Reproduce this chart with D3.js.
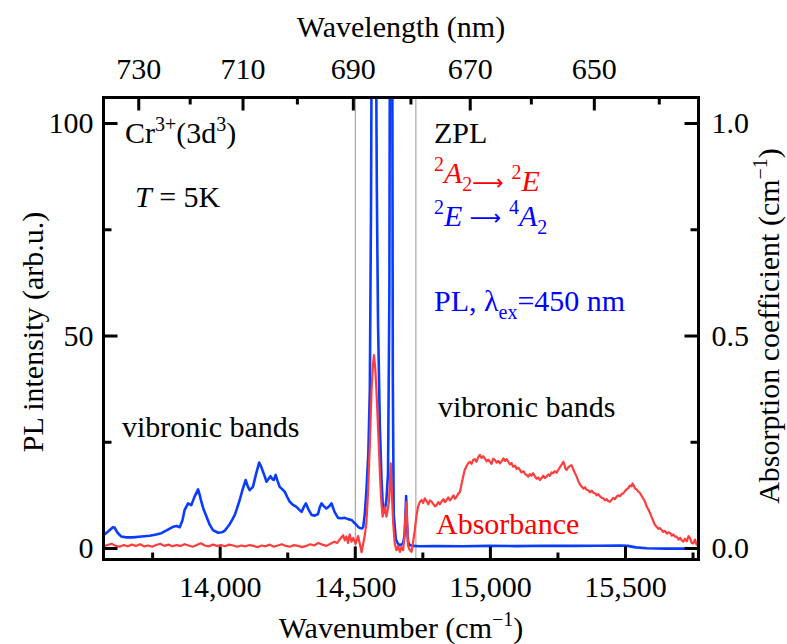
<!DOCTYPE html>
<html><head><meta charset="utf-8">
<script src="https://cdn.jsdelivr.net/npm/d3@7/dist/d3.min.js"></script>
<style>body{margin:0;background:#fff}svg{display:block}</style>
</head><body><svg id="c" width="787" height="644"></svg>
<script>
// ---- data ----
const plWavenumber = [13570,13580,13592,13605,13611,13622,13636,13655,13679,13710,13741,13765,13784,13805,13827,13840,13852,13862,13870,13883,13895,13907,13920,13926,13932,13941,13951,13963,13975,13994,14008,14019,14030,14037,14046,14056,14065,14074,14085,14096,14104,14111,14123,14135,14146,14153,14160,14167,14173,14180,14188,14195,14200,14207,14214,14222,14232,14241,14250,14259,14270,14284,14293,14303,14311,14319,14330,14340,14352,14364,14370,14377,14386,14395,14405,14414,14425,14438,14450,14463,14475,14488,14497,14504,14512,14519,14526,14531,14537,14543,14550,14555.6,14560,14563,14569,14576,14581.5,14586,14592.6,14599,14605,14611,14617,14623,14628,14630.7,14634,14638,14640.7,14644,14652,14660,14667,14673,14679,14684,14687,14690,14693,14697,14703,14715,14740,14800,14900,15000,15100,15200,15300,15400,15480,15510,15540,15580,15650,15720,15772];
const plIntensity = [3.1,3.5,4.2,4.9,4.8,3.6,2.7,2.5,2.5,2.7,2.9,3.2,3.5,4.2,5.0,5.2,4.9,6.5,8.9,10.5,10.1,12.1,13.8,12.5,10.9,9.0,7.4,5.5,4.2,3.6,3.7,4.1,5.0,5.6,6.6,7.8,9.5,11.3,13.8,16.0,14.5,13.6,14.4,17.5,20.1,19.2,18.0,16.8,15.6,16.2,16.9,16.2,16.0,17.2,15.8,14.4,13.8,13.2,12.0,10.9,10.2,9.7,9.1,8.5,9.6,10.5,8.9,7.8,7.6,8.0,9.5,10.5,9.8,9.3,9.8,10.5,8.5,7.1,7.0,7.1,6.8,6.6,6.0,5.6,5.0,4.7,4.6,4.9,8.0,13.6,22,37,80,130,220,150,85,53,29,16,8.2,9,11.3,17.6,60,150,210,150,40,8,2,1.0,0.6,0.9,1.2,3,7,12.2,6,1.5,0.7,0.5,0.4,0.45,0.4,0.5,0.45,0.55,0.5,0.55,0.6,0.5,0.15,-0.05,-0.15,-0.1,-0.15];

const absWavenumber = [13570,13585,13600,13615,13630,13645,13660,13675,13690,13705,13720,13735,13750,13765,13780,13795,13810,13825,13840,13855,13870,13885,13900,13915,13930,13945,13960,13975,13990,14005,14020,14035,14050,14065,14080,14095,14110,14125,14140,14155,14170,14185,14200,14215,14230,14245,14260,14275,14290,14305,14320,14335,14350,14365,14380,14395,14410,14425,14435,14444,14457,14463,14469,14475,14481,14488,14494,14503,14512,14518,14525,14531,14537,14543,14549,14556,14562,14567,14571,14576,14580,14587,14593,14598,14603,14607,14611,14617,14622,14627,14630,14633,14637,14642,14648,14654,14660,14667,14673,14679,14684,14688,14691,14694,14697,14703,14710,14716,14722,14728,14734,14741,14747,14753,14759,14766,14772,14778,14784,14790,14797,14803,14809,14815,14821,14828,14834,14840,14846,14852,14858,14865,14871,14877,14883,14889,14895,14901,14907,14913,14920,14926,14932,14938,14944,14950,14957,14963,14969,14975,14981,14988,14994,15000,15006,15012,15019,15025,15031,15037,15043,15050,15056,15062,15068,15074,15080,15086,15093,15099,15105,15111,15117,15124,15130,15136,15142,15148,15154,15160,15167,15173,15179,15185,15191,15197,15204,15210,15216,15222,15228,15234,15240,15247,15253,15259,15265,15272,15276,15280,15284,15290,15296,15302,15308,15315,15321,15327,15333,15340,15346,15352,15358,15364,15370,15377,15383,15389,15395,15401,15408,15414,15420,15426,15432,15438,15444,15450,15457,15463,15469,15475,15481,15488,15494,15500,15506,15512,15518,15524,15528,15533,15537,15543,15549,15556,15562,15568,15574,15580,15587,15593,15599,15605,15611,15617,15624,15630,15636,15642,15648,15655,15661,15667,15673,15679,15685,15691,15698,15704,15710,15716,15722,15729,15735,15741,15747,15753,15759,15765,15770];
const absCoeff = [0.004,0.007,0.010,0.005,0.003,0.007,0.004,0.008,0.005,0.009,0.004,0.006,0.003,0.007,0.010,0.005,0.008,0.004,0.007,0.005,0.009,0.006,0.003,0.007,0.011,0.006,0.004,0.008,0.005,0.007,0.004,0.008,0.006,0.003,0.006,0.004,0.007,0.005,0.002,0.006,0.004,0.008,0.003,0.006,0.009,0.005,0.003,0.007,0.005,0.002,0.005,0.009,0.006,0.012,0.008,0.005,0.010,0.015,0.012,0.020,0.030,0.018,0.027,0.012,0.032,0.015,0.024,0.010,0.028,0.012,-0.010,0.010,0.030,0.060,0.130,0.250,0.372,0.430,0.454,0.420,0.372,0.270,0.176,0.110,0.074,0.085,0.097,0.074,0.090,0.113,0.160,0.199,0.130,0.059,0.010,-0.005,0.004,-0.009,0.002,-0.005,0.030,0.080,0.108,0.060,0.005,-0.004,-0.009,0.015,0.042,0.075,0.097,0.109,0.113,0.106,0.117,0.110,0.103,0.112,0.109,0.104,0.098,0.101,0.108,0.103,0.109,0.115,0.108,0.113,0.119,0.112,0.117,0.124,0.116,0.121,0.128,0.132,0.150,0.168,0.184,0.192,0.200,0.203,0.198,0.207,0.209,0.203,0.214,0.219,0.212,0.216,0.211,0.204,0.208,0.203,0.198,0.210,0.207,0.201,0.205,0.199,0.204,0.211,0.205,0.209,0.203,0.197,0.200,0.191,0.194,0.186,0.189,0.184,0.178,0.181,0.174,0.172,0.168,0.174,0.170,0.176,0.168,0.163,0.166,0.160,0.164,0.170,0.165,0.168,0.173,0.170,0.178,0.176,0.181,0.177,0.184,0.190,0.196,0.203,0.195,0.186,0.184,0.190,0.193,0.195,0.186,0.176,0.168,0.158,0.150,0.144,0.140,0.143,0.137,0.136,0.131,0.135,0.130,0.129,0.124,0.127,0.121,0.118,0.117,0.112,0.115,0.110,0.109,0.113,0.118,0.115,0.121,0.124,0.122,0.127,0.129,0.134,0.138,0.141,0.147,0.145,0.152,0.146,0.140,0.138,0.133,0.129,0.122,0.116,0.109,0.098,0.090,0.082,0.072,0.063,0.054,0.050,0.045,0.047,0.042,0.038,0.040,0.034,0.037,0.035,0.029,0.032,0.027,0.027,0.020,0.024,0.018,0.015,0.022,0.016,0.028,0.023,0.012,0.011,0.020,0.008,0.012];

const zplLines = [14502, 14726];
const bottomMajor = [14000, 14500, 15000, 15500];
const bottomMinor = [13750, 14250, 14750, 15250, 15750];
const topMajor = [730, 710, 690, 670, 650];
const topMinor = [720, 700, 680, 660, 640];
const leftMajor = [0, 50, 100];
const leftMinor = [25, 75];
const rightMajor = [0, 0.5, 1.0];
const rightMinor = [0.25, 0.75];

// ---- layout ----
const L = 103.5, R = 698.5, T = 97.5, B = 559.5;
const FS = 30, SUP = 20;
const FONT = "'Liberation Serif','Times New Roman',serif";
const ARROWFONT = "'DejaVu Sans',sans-serif";
const svg = d3.select("#c");
const x = d3.scaleLinear().domain([13570, 15772]).range([L, R]);
const yL = d3.scaleLinear().domain([-2.7, 106]).range([B, T]);
const yR = d3.scaleLinear().domain([-0.027, 1.06]).range([B, T]);

svg.append("defs").append("clipPath").attr("id","clip")
  .append("rect").attr("x",L).attr("y",T).attr("width",R-L).attr("height",B-T);

const plot = svg.append("g").attr("clip-path","url(#clip)");
zplLines.forEach(v => plot.append("line").attr("x1",x(v)).attr("x2",x(v)).attr("y1",T).attr("y2",B)
  .attr("stroke","#a8a8a8").attr("stroke-width",1.2));

const absData = absWavenumber.map((w,i)=>[w, absCoeff[i]]);
const plData = plWavenumber.map((w,i)=>[w, plIntensity[i]]);

plot.append("path").datum(plData)
  .attr("d", d3.line().x(d=>x(d[0])).y(d=>yL(d[1])))
  .attr("fill","none").attr("stroke","#0a3cff").attr("stroke-width",2.6).attr("stroke-linejoin","round");
plot.append("path").datum(absData)
  .attr("d", d3.line().x(d=>x(d[0])).y(d=>yR(d[1])))
  .attr("fill","none").attr("stroke","#ff3d3d").attr("stroke-width",2.2).attr("stroke-linejoin","round");

// ---- axes ----
function styleAxis(g){
  g.attr("font-family", FONT).attr("font-size", FS);
  g.select(".domain").remove();
  g.selectAll("line").attr("stroke","#000").attr("stroke-width",3);
  g.selectAll("text").attr("fill","#000");
}
const fmtComma = d3.format(",");
svg.append("g").attr("transform",`translate(0,${B})`)
  .call(d3.axisBottom(x).tickValues(bottomMajor).tickFormat(fmtComma).tickSizeInner(-13).tickSizeOuter(0).tickPadding(16)).call(styleAxis);
svg.append("g").attr("transform",`translate(0,${B})`)
  .call(d3.axisBottom(x).tickValues(bottomMinor).tickFormat("").tickSizeInner(-7).tickSizeOuter(0)).call(styleAxis);
svg.append("g").attr("transform",`translate(0,${T})`)
  .call(d3.axisTop(x).tickValues(topMajor.map(l=>1e7/l)).tickFormat(d=>Math.round(1e7/d)).tickSizeInner(-13).tickSizeOuter(0).tickPadding(19)).call(styleAxis);
svg.append("g").attr("transform",`translate(0,${T})`)
  .call(d3.axisTop(x).tickValues(topMinor.map(l=>1e7/l)).tickFormat("").tickSizeInner(-7).tickSizeOuter(0)).call(styleAxis);
svg.append("g").attr("transform",`translate(${L},0)`)
  .call(d3.axisLeft(yL).tickValues(leftMajor).tickFormat(d3.format("d")).tickSizeInner(-14).tickSizeOuter(0).tickPadding(10)).call(styleAxis);
svg.append("g").attr("transform",`translate(${L},0)`)
  .call(d3.axisLeft(yL).tickValues(leftMinor).tickFormat("").tickSizeInner(-8).tickSizeOuter(0)).call(styleAxis);
svg.append("g").attr("transform",`translate(${R},0)`)
  .call(d3.axisRight(yR).tickValues(rightMajor).tickFormat(d3.format(".1f")).tickSizeInner(-14).tickSizeOuter(0).tickPadding(13)).call(styleAxis);
svg.append("g").attr("transform",`translate(${R},0)`)
  .call(d3.axisRight(yR).tickValues(rightMinor).tickFormat("").tickSizeInner(-8).tickSizeOuter(0)).call(styleAxis);

svg.append("rect").attr("x",L).attr("y",T).attr("width",R-L).attr("height",B-T)
  .attr("fill","none").attr("stroke","#000").attr("stroke-width",3);

// ---- titles ----
function txt(xp, yp, color, anchor){
  return svg.append("text").attr("x",xp).attr("y",yp).attr("fill",color||"#000")
    .attr("font-family",FONT).attr("font-size",FS).attr("text-anchor",anchor||"start");
}
function arrow(t){
  t.append("tspan").attr("font-family",ARROWFONT).attr("font-size",22).attr("dy",-1).text("\u27F6");
  t.append("tspan").attr("dy",1).text(" ");
}
txt(401, 37, "#000", "middle").text("Wavelength (nm)");
{
  const t = txt(401, 638, "#000", "middle");
  t.append("tspan").text("Wavenumber (cm");
  t.append("tspan").attr("dy",-12).attr("font-size",SUP).text("\u22121");
  t.append("tspan").attr("dy",12).text(")");
}
svg.append("text").attr("transform","translate(43,332) rotate(-90)").attr("text-anchor","middle")
  .attr("font-family",FONT).attr("font-size",FS).text("PL intensity (arb.u.)");
{
  const t = svg.append("text").attr("transform","translate(779,326) rotate(-90)").attr("text-anchor","middle")
    .attr("font-family",FONT).attr("font-size",FS);
  t.append("tspan").text("Absorption coefficient (cm");
  t.append("tspan").attr("dy",-12).attr("font-size",SUP).text("\u22121");
  t.append("tspan").attr("dy",12).text(")");
}

// ---- annotations ----
{
  const t = txt(125, 143);
  t.append("tspan").text("Cr");
  t.append("tspan").attr("dy",-12).attr("font-size",SUP).text("3+");
  t.append("tspan").attr("dy",12).text("(3d");
  t.append("tspan").attr("dy",-12).attr("font-size",SUP).text("3");
  t.append("tspan").attr("dy",12).text(")");
}
{
  const t = txt(135, 207);
  t.append("tspan").attr("font-style","italic").text("T");
  t.append("tspan").text(" = 5K");
}
txt(122, 437).text("vibronic bands");
txt(434, 143).text("ZPL");
{
  const t = txt(434, 183, "#ff0000");
  t.append("tspan").attr("dy",-12).attr("font-size",SUP).text("2");
  t.append("tspan").attr("dy",12).attr("font-style","italic").text("A");
  t.append("tspan").attr("dy",8).attr("font-size",SUP).text("2");
  t.append("tspan").attr("dy",-8).text("");
  arrow(t);
  t.append("tspan").attr("dy",-12).attr("font-size",SUP).text("2");
  t.append("tspan").attr("dy",12).attr("font-style","italic").text("E");
}
{
  const t = txt(434, 226, "#0000ff");
  t.append("tspan").attr("dy",-12).attr("font-size",SUP).text("2");
  t.append("tspan").attr("dy",12).attr("font-style","italic").text("E");
  t.append("tspan").text(" ");
  arrow(t);
  t.append("tspan").attr("dy",-12).attr("font-size",SUP).text("4");
  t.append("tspan").attr("dy",12).attr("font-style","italic").text("A");
  t.append("tspan").attr("dy",8).attr("font-size",SUP).text("2");
}
{
  const t = txt(434, 311, "#0000ff");
  t.append("tspan").text("PL, \u03bb");
  t.append("tspan").attr("dy",8).attr("font-size",SUP).text("ex");
  t.append("tspan").attr("dy",-8).text("=450 nm");
}
txt(438, 417).text("vibronic bands");
txt(436, 534, "#ff0000").text("Absorbance");
</script></body></html>
